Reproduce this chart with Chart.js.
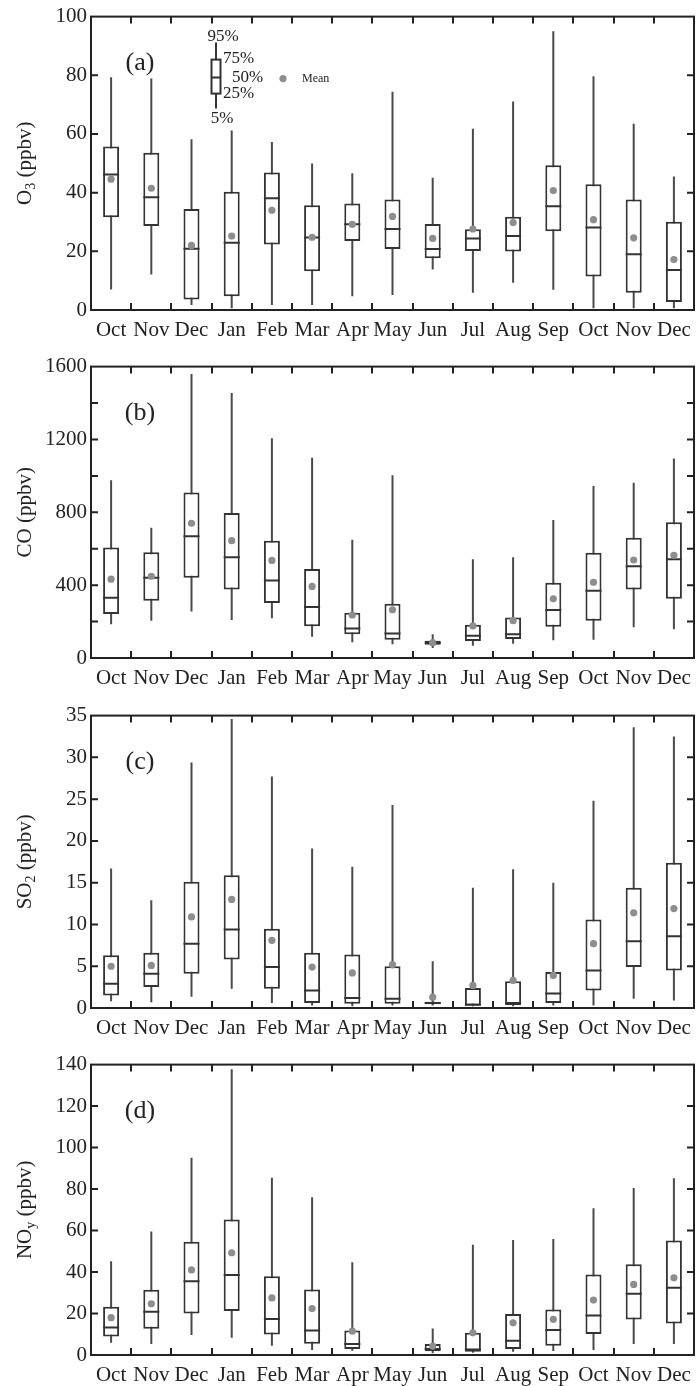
<!DOCTYPE html>
<html>
<head>
<meta charset="utf-8">
<script src="https://cdn.jsdelivr.net/npm/chart.js@4.4.1/dist/chart.umd.min.js"></script>
<style>
  html, body { margin: 0; padding: 0; background: #fff; }
  #wrap { position: relative; width: 696px; height: 1386px; }
  canvas { position: absolute; left: 0; }
</style>
</head>
<body>
<div id="wrap">
  <canvas id="o3Chart" width="696" height="350" style="top:0px"></canvas>
  <canvas id="coChart" width="696" height="349" style="top:350px"></canvas>
  <canvas id="so2Chart" width="696" height="349" style="top:699px"></canvas>
  <canvas id="noyChart" width="696" height="338" style="top:1048px"></canvas>
</div>
<script>
const months = ['Oct', 'Nov', 'Dec', 'Jan', 'Feb', 'Mar', 'Apr', 'May', 'Jun', 'Jul', 'Aug', 'Sep', 'Oct', 'Nov', 'Dec'];

// (a) O3, ppbv
const o3P5   = [7.0, 12.1, 1.7, 0.6, 1.7, 1.7, 4.7, 5.1, 13.8, 5.9, 9.3, 6.9, 0.6, 0.6, 0.6];
const o3P25  = [31.6, 28.6, 3.6, 4.7, 22.3, 13.2, 23.5, 20.8, 17.6, 20.1, 19.9, 26.8, 11.4, 5.9, 2.7];
const o3P50  = [46.2, 38.4, 20.9, 22.9, 38.1, 24.7, 29.2, 27.6, 20.8, 24.4, 25.2, 35.4, 28.1, 19.0, 13.6];
const o3P75  = [55.7, 53.6, 34.4, 40.3, 46.9, 35.7, 36.3, 37.7, 29.3, 27.5, 31.8, 49.3, 42.9, 37.7, 30.1];
const o3P95  = [79.3, 78.9, 58.2, 61.2, 57.3, 49.9, 46.6, 74.4, 45.1, 61.8, 71.1, 95.0, 79.7, 63.5, 45.5];
const o3Mean = [44.6, 41.5, 22.0, 25.2, 34.0, 24.8, 29.2, 31.9, 24.4, 27.6, 29.8, 40.7, 30.8, 24.6, 17.2];
const o3Ticks = [0, 100, 20];

// (b) CO, ppbv
const coP5   = [185, 204, 255, 209, 218, 116, 87, 76, 55, 67, 78, 98, 100, 169, 158];
const coP25  = [242, 315, 440, 376, 302, 175, 131, 100, 73, 93, 104, 171, 204, 376, 325];
const coP50  = [331, 440, 669, 553, 425, 280, 162, 135, 84, 122, 131, 264, 369, 504, 542];
const coP75  = [607, 580, 909, 796, 644, 489, 249, 298, 95, 182, 222, 413, 578, 660, 745];
const coP95  = [976, 715, 1560, 1455, 1207, 1100, 649, 1004, 131, 542, 553, 758, 945, 962, 1095];
const coMean = [433, 449, 740, 644, 536, 393, 236, 265, 84, 176, 205, 325, 416, 538, 564];
const coTicks = [0, 1600, 200, 400];

// (c) SO2, ppbv
const so2P5   = [0.8, 0.7, 1.35, 2.3, 0.6, 0.3, 0.2, 0.3, 0.3, 0.2, 0.2, 0.3, 0.3, 1.1, 0.9];
const so2P25  = [1.5, 2.5, 4.1, 5.8, 2.3, 0.6, 0.5, 0.5, 0.45, 0.3, 0.35, 0.6, 2.1, 4.9, 4.5];
const so2P50  = [2.9, 4.1, 7.7, 9.4, 4.9, 2.1, 1.2, 1.1, 0.6, 0.4, 0.6, 1.75, 4.5, 8.0, 8.6];
const so2P75  = [6.3, 6.6, 15.1, 15.9, 9.5, 6.6, 6.4, 5.0, 0.75, 2.4, 3.2, 4.3, 10.6, 14.4, 17.4];
const so2P95  = [16.7, 12.9, 29.4, 34.6, 27.7, 19.1, 16.9, 24.3, 5.6, 14.4, 16.6, 15.0, 24.8, 33.6, 32.5];
const so2Mean = [5.0, 5.1, 10.9, 13.0, 8.1, 4.9, 4.2, 5.2, 1.3, 2.7, 3.3, 3.9, 7.7, 11.4, 11.9];
const so2Ticks = [0, 35, 5];

// (d) NOy, ppbv (no May data)
const noyP5   = [5.9, 5.3, 9.7, 8.3, 4.5, 2.4, 2.1, null, 0.8, 1.1, 1.6, 1.9, 2.4, 5.3, 5.3];
const noyP25  = [8.9, 12.6, 20.0, 21.2, 9.9, 5.4, 2.9, null, 1.8, 1.6, 2.9, 4.5, 10.1, 17.1, 15.2];
const noyP50  = [13.3, 20.8, 35.6, 38.6, 17.3, 11.8, 5.3, null, 2.9, 2.7, 6.9, 12.0, 19.0, 29.5, 32.4];
const noyP75  = [23.3, 31.4, 54.6, 65.3, 38.0, 31.6, 11.8, null, 5.3, 10.7, 19.8, 21.9, 38.8, 43.7, 55.2];
const noyP95  = [45.2, 59.5, 95.1, 137.8, 85.4, 76.1, 44.7, null, 12.8, 53.2, 55.4, 55.9, 70.7, 80.5, 85.2];
const noyMean = [18.0, 24.7, 41.0, 49.3, 27.5, 22.4, 11.5, null, 4.3, 10.7, 15.5, 17.2, 26.5, 34.0, 37.2];
const noyTicks = [0, 140, 20];

const serif = '"Liberation Serif", "Times New Roman", serif';
const inkColor = '#222';
const boxColor = '#333';
const whiskerColor = '#4a4a4a';
const meanColor = '#8e8e8e';

function boxDatasets(p5, p25, p50, p75, p95, mean) {
    return [
        { type: 'line', data: mean, showLine: false, pointRadius: 3.6, pointBackgroundColor: meanColor, pointBorderWidth: 0, order: 0 },
        { type: 'line', data: p50, showLine: false, pointStyle: 'line', pointRadius: 8, pointBorderColor: boxColor, pointBorderWidth: 2, order: 1 },
        {
            type: 'bar', data: p25.map((v, i) => v == null ? null : [v, p75[i]]),
            barThickness: 16, backgroundColor: '#fff', borderColor: boxColor, borderWidth: 2,
            borderSkipped: false, grouped: false, inflateAmount: 0, order: 2
        },
        {
            type: 'bar', data: p5.map((v, i) => v == null ? null : [v, p95[i]]),
            barThickness: 2, backgroundColor: whiskerColor, borderWidth: 0,
            grouped: false, inflateAmount: 0, order: 3
        }
    ];
}

// draws a rotated axis title that may hold a subscript
function drawTitle(ctx, parts, cx, cy) {
    const big = '21px ' + serif;
    const small = '14px ' + serif;
    ctx.save();
    ctx.translate(cx, cy);
    ctx.rotate(-Math.PI / 2);
    let total = 0;
    parts.forEach(p => { ctx.font = p[1] ? small : big; total += ctx.measureText(p[0]).width; });
    let x = -total / 2;
    ctx.textAlign = 'left';
    ctx.textBaseline = 'middle';
    ctx.fillStyle = inkColor;
    parts.forEach(p => {
        ctx.font = p[1] ? small : big;
        ctx.fillText(p[0], x, p[1] ? 6 : 0);
        x += ctx.measureText(p[0]).width;
    });
    ctx.restore();
}

const framePlugin = {
    id: 'frame',
    afterDatasetsDraw(chart, args, opts) {
        const { ctx, chartArea: a, scales: { x, y } } = chart;
        const tl = 7;
        ctx.save();
        ctx.strokeStyle = inkColor;
        ctx.lineWidth = 2;
        ctx.strokeRect(a.left, a.top, a.right - a.left, a.bottom - a.top);
        ctx.beginPath();
        for (let i = 0; i < x.ticks.length - 1; i++) {
            const px = Math.round((x.getPixelForTick(i) + x.getPixelForTick(i + 1)) / 2);
            ctx.moveTo(px, a.bottom); ctx.lineTo(px, a.bottom - tl);
            ctx.moveTo(px, a.top); ctx.lineTo(px, a.top + tl);
        }
        y.ticks.forEach((t, i) => {
            const py = y.getPixelForTick(i);
            if (py <= a.top + 1 || py >= a.bottom - 1) return;
            ctx.moveTo(a.left, py); ctx.lineTo(a.left + tl, py);
            ctx.moveTo(a.right, py); ctx.lineTo(a.right - tl, py);
        });
        ctx.stroke();

        // panel tag
        ctx.fillStyle = inkColor;
        ctx.font = '26px ' + serif;
        ctx.textAlign = 'center';
        ctx.textBaseline = 'middle';
        ctx.fillText(opts.tag, a.left + 49, a.top + 47);

        drawTitle(ctx, opts.title, 25, (a.top + a.bottom) / 2);

        if (opts.key) {
            const kx = a.left + 125, ky = a.top;
            ctx.strokeStyle = boxColor;
            ctx.lineWidth = 2;
            ctx.beginPath();
            ctx.moveTo(kx, ky + 26); ctx.lineTo(kx, ky + 43);
            ctx.moveTo(kx, ky + 77); ctx.lineTo(kx, ky + 92);
            ctx.moveTo(kx - 4.5, ky + 61); ctx.lineTo(kx + 4.5, ky + 61);
            ctx.stroke();
            ctx.strokeRect(kx - 4.5, ky + 43, 9, 34);
            ctx.font = '17px ' + serif;
            ctx.textAlign = 'center';
            ctx.fillText('95%', kx + 7, ky + 20);
            ctx.fillText('5%', kx + 6, ky + 102);
            ctx.textAlign = 'left';
            ctx.fillText('75%', kx + 7, ky + 42);
            ctx.fillText('50%', kx + 16, ky + 61);
            ctx.fillText('25%', kx + 7, ky + 77);
            ctx.fillStyle = meanColor;
            ctx.beginPath();
            ctx.arc(kx + 67, ky + 62, 3.6, 0, Math.PI * 2);
            ctx.fill();
            ctx.fillStyle = inkColor;
            ctx.font = '12px ' + serif;
            ctx.fillText('Mean', kx + 86, ky + 62);
        }
        ctx.restore();
    }
};

function panelOptions(ticks, xHeight, frame) {
    const [min, max, step, labelStep] = ticks;
    return {
        responsive: false,
        animation: false,
        events: [],
        layout: { autoPadding: false, padding: { top: 15, right: 2, left: 0, bottom: 0 } },
        scales: {
            x: {
                offset: true,
                ticks: { font: { family: serif, size: 21 }, color: inkColor, padding: 8, maxRotation: 0, autoSkip: false },
                grid: { display: false, drawTicks: false },
                border: { display: false },
                afterFit(scale) {
                    scale.height = xHeight;
                    scale.paddingLeft = 0;
                    scale.paddingRight = 0;
                }
            },
            y: {
                min: min,
                max: max,
                ticks: {
                    stepSize: step,
                    autoSkip: false,
                    padding: 4,
                    font: { family: serif, size: 21 },
                    color: inkColor,
                    callback: v => (labelStep && v % labelStep !== 0) ? '' : v
                },
                grid: { display: false, drawTicks: false },
                border: { display: false },
                afterFit(scale) { scale.width = 91; }
            }
        },
        plugins: {
            legend: { display: false },
            tooltip: { enabled: false },
            frame: frame
        }
    };
}

const o3Chart = new Chart(document.getElementById('o3Chart'), {
    type: 'bar',
    data: { labels: months, datasets: boxDatasets(o3P5, o3P25, o3P50, o3P75, o3P95, o3Mean) },
    options: panelOptions(o3Ticks, 40, { tag: '(a)', title: [['O', 0], ['3', 1], [' (ppbv)', 0]], key: true }),
    plugins: [framePlugin]
});

const coChart = new Chart(document.getElementById('coChart'), {
    type: 'bar',
    data: { labels: months, datasets: boxDatasets(coP5, coP25, coP50, coP75, coP95, coMean) },
    options: panelOptions(coTicks, 41, { tag: '(b)', title: [['CO (ppbv)', 0]] }),
    plugins: [framePlugin]
});

const so2Chart = new Chart(document.getElementById('so2Chart'), {
    type: 'bar',
    data: { labels: months, datasets: boxDatasets(so2P5, so2P25, so2P50, so2P75, so2P95, so2Mean) },
    options: panelOptions(so2Ticks, 40, { tag: '(c)', title: [['SO', 0], ['2', 1], [' (ppbv)', 0]] }),
    plugins: [framePlugin]
});

const noyChart = new Chart(document.getElementById('noyChart'), {
    type: 'bar',
    data: { labels: months, datasets: boxDatasets(noyP5, noyP25, noyP50, noyP75, noyP95, noyMean) },
    options: panelOptions(noyTicks, 31, { tag: '(d)', title: [['NO', 0], ['y', 1], [' (ppbv)', 0]] }),
    plugins: [framePlugin]
});
</script>
</body>
</html>
